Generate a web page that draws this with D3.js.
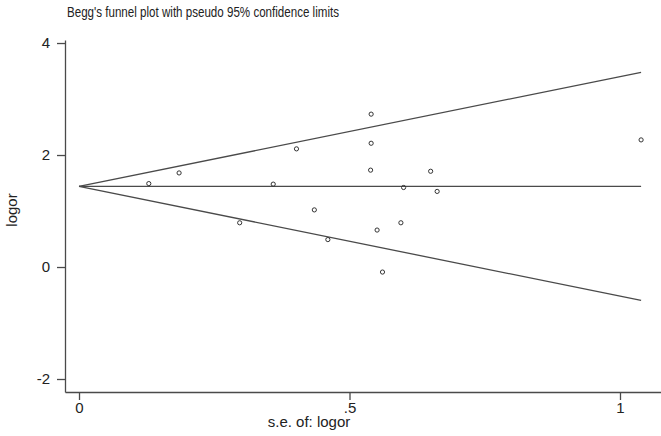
<!DOCTYPE html>
<html>
<head>
<meta charset="utf-8">
<script src="https://cdn.jsdelivr.net/npm/d3@7"></script>
<style>
  body { margin: 0; background: #fff; }
  svg { display: block; font-family: "Liberation Sans", Arial, sans-serif; }
</style>
</head>
<body>
<svg width="661" height="436"></svg>
<script>
// study standard errors and log odds ratios
var seValues = [0.129, 0.185, 0.297, 0.359, 0.402, 0.435, 0.460, 0.540, 0.540, 0.539,
  0.551, 0.561, 0.595, 0.600, 0.650, 0.662, 1.039];
var logorValues = [1.49, 1.68, 0.79, 1.48, 2.11, 1.02, 0.49, 2.73, 2.21, 1.73,
  0.66, -0.09, 0.79, 1.42, 1.71, 1.35, 2.27];
var pooledLogor = 1.44;
var seRange = [0, 1.039];
var xTicks = [0, 0.5, 1];
var xTickLabels = ["0", ".5", "1"];
var yTicks = [-2, 0, 2, 4];
var yTickLabels = ["-2", "0", "2", "4"];

var svg = d3.select("svg");

var x = d3.scaleLinear().domain([-0.0259, 1.0758]).range([65, 661]);
var y = d3.scaleLinear().domain([-2.232, 4.054]).range([392, 40]);

var ink = "#222", lineCol = "#4a4a4a";

// title
svg.append("text")
  .attr("x", 67).attr("y", 17)
  .style("font-size", "14px").attr("fill", ink)
  .attr("textLength", 272).attr("lengthAdjust", "spacingAndGlyphs")
  .text("Begg's funnel plot with pseudo 95% confidence limits");

// axes
var yAxis = svg.append("g")
  .attr("transform", "translate(65,0)")
  .call(d3.axisLeft(y).tickValues(yTicks).tickSizeInner(8).tickSizeOuter(0).tickPadding(7)
    .tickFormat(function (d, i) { return yTickLabels[i]; }));

var xAxis = svg.append("g")
  .attr("transform", "translate(0,392)")
  .call(d3.axisBottom(x).tickValues(xTicks).tickSizeInner(8).tickSizeOuter(0).tickPadding(2)
    .tickFormat(function (d, i) { return xTickLabels[i]; }));

svg.selectAll(".tick text").style("font-size", "15px").attr("fill", ink)
  .style("font-family", "'Liberation Sans', Arial, sans-serif");
svg.selectAll(".domain, .tick line").attr("stroke", lineCol).attr("stroke-width", 1.3);

// axis titles
svg.append("text")
  .attr("x", 309).attr("y", 426.5)
  .attr("text-anchor", "middle")
  .style("font-size", "15px").attr("fill", ink)
  .text("s.e. of: logor");

svg.append("text")
  .attr("transform", "translate(17,210) rotate(-90)")
  .attr("text-anchor", "middle")
  .style("font-size", "15px").attr("fill", ink)
  .text("logor");

// pseudo 95% confidence limits and pooled estimate
var limits = [
  function (s) { return pooledLogor + 1.96 * s; },
  function (s) { return pooledLogor; },
  function (s) { return pooledLogor - 1.96 * s; }
];
var line = d3.line().x(function (s) { return x(s); });

limits.forEach(function (f) {
  svg.append("path")
    .datum(seRange)
    .attr("d", line.y(function (s) { return y(f(s)); }))
    .attr("fill", "none")
    .attr("stroke", lineCol)
    .attr("stroke-width", 1.3);
});

// study points
svg.append("g").selectAll("circle")
  .data(seValues)
  .enter().append("circle")
  .attr("cx", function (d) { return x(d); })
  .attr("cy", function (d, i) { return y(logorValues[i]); })
  .attr("r", 2.1)
  .attr("fill", "none")
  .attr("stroke", "#333")
  .attr("stroke-width", 1);
</script>
</body>
</html>
